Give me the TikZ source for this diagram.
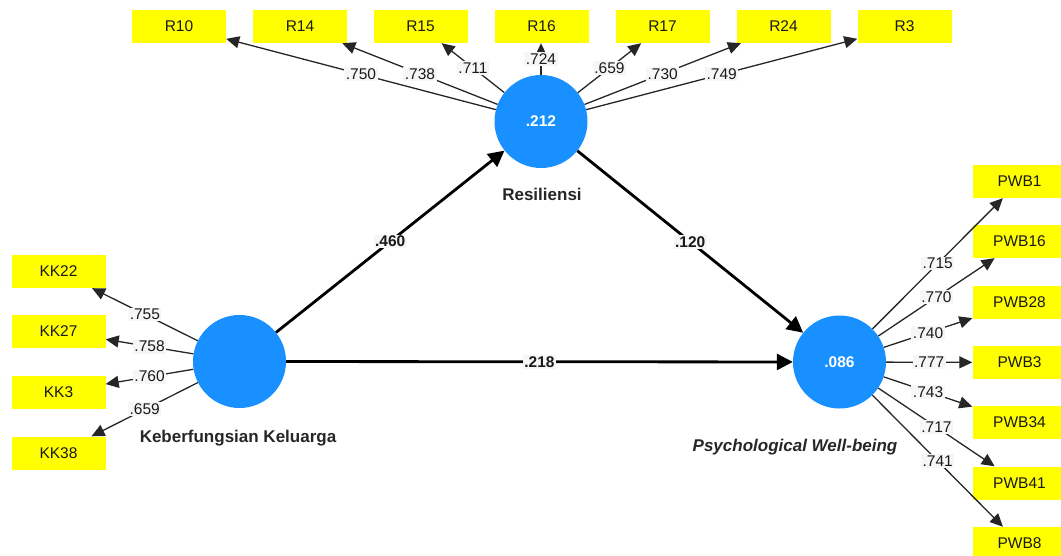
\documentclass[tikz,border=0pt]{standalone}
\usepackage{fontspec}
\setmainfont{Liberation Sans}
\usetikzlibrary{arrows.meta}
\definecolor{lvblue}{RGB}{25,144,255}
\definecolor{indyellow}{RGB}{255,255,0}
\definecolor{lblbg}{RGB}{246,246,246}
\begin{document}
\begin{tikzpicture}[x=1pt,y=-1pt,
  ind/.style={rectangle, fill=indyellow, minimum width=94pt, minimum height=33pt, inner sep=0pt, font=\fontsize{15.5}{18}\selectfont, text=black!90},
  lv/.style={circle, fill=lvblue, minimum size=93pt, inner sep=0pt, text=white, font=\fontsize{15.5}{18}\selectfont\bfseries},
  load/.style={draw=black!85, line width=1.3pt, -{Triangle[length=13pt,width=12pt]}},
  lbl/.style={fill=lblbg, inner sep=1.5pt, font=\fontsize{15.5}{18}\selectfont, text=black!90},
  pathar/.style={draw=black, line width=2.8pt, -{Triangle[length=16pt,width=16pt]}},
  slbl/.style={fill=lblbg, inner sep=1.5pt, font=\fontsize{15.5}{18}\selectfont\bfseries, text=black!90},
  lvname/.style={font=\fontsize{17}{20}\selectfont\bfseries, text=black!85}]
\useasboundingbox (0,0) rectangle (1061,556);
\clip (0,0) rectangle (1061,556);

% latent variables
\node[lv] (Res) at (541,121.5) {.212};
\node[lv] (KK) at (239.5,361.5) {};
\node[lv] (PWB) at (839.5,362) {.086};

\node[lvname] (ResN) at (542,194) {Resiliensi};
\node[lvname] (KKN) at (238,438) {Keberfungsian Keluarga};
\node[lvname] (PWBN) at (795,447) {\itshape Psychological Well-being};

% R indicators
\node[ind] (R10) at (179,26.5) {R10};
\node[ind] (R14) at (300,26.5) {R14};
\node[ind] (R15) at (420.5,26.5) {R15};
\node[ind] (R16) at (541.5,26.5) {R16};
\node[ind] (R17) at (662.5,26.5) {R17};
\node[ind] (R24) at (783.5,26.5) {R24};
\node[ind] (R3) at (904.5,26.5) {R3};

% KK indicators
\node[ind] (KK22) at (58.5,271.5) {KK22};
\node[ind] (KK27) at (58.5,331.5) {KK27};
\node[ind] (KK3) at (58.5,392) {KK3};
\node[ind] (KK38) at (58.5,453) {KK38};

% PWB indicators
\node[ind] (PWB1) at (1019.5,181.5) {PWB1};
\node[ind] (PWB16) at (1019.5,241.5) {PWB16};
\node[ind] (PWB28) at (1019.5,302.5) {PWB28};
\node[ind] (PWB3) at (1019.5,362.5) {PWB3};
\node[ind] (PWB34) at (1019.5,422.5) {PWB34};
\node[ind] (PWB41) at (1019.5,483) {PWB41};
\node[ind] (PWB8) at (1019.5,543.5) {PWB8};

% loadings Resiliensi
\draw[load] (Res) -- node[lbl] {.750} (R10);
\draw[load] (Res) -- node[lbl] {.738} (R14);
\draw[load] (Res) -- node[lbl] {.711} (R15);
\draw[load] (Res.north) -- node[lbl] {.724} (R16.south -| Res.north);
\draw[load] (Res) -- node[lbl] {.659} (R17);
\draw[load] (Res) -- node[lbl] {.730} (R24);
\draw[load] (Res) -- node[lbl] {.749} (R3);

% loadings KK
\draw[load] (KK) -- node[lbl] {.755} (KK22);
\draw[load] (KK) -- node[lbl] {.758} (KK27);
\draw[load] (KK) -- node[lbl] {.760} (KK3);
\draw[load] (KK) -- node[lbl] {.659} (KK38);

% loadings PWB
\draw[load] (PWB) -- node[lbl] {.715} (PWB1);
\draw[load] (PWB) -- node[lbl] {.770} (PWB16);
\draw[load] (PWB) -- node[lbl] {.740} (PWB28);
\draw[load] (PWB) -- node[lbl] {.777} (PWB3);
\draw[load] (PWB) -- node[lbl] {.743} (PWB34);
\draw[load] (PWB) -- node[lbl] {.717} (PWB41);
\draw[load] (PWB) -- node[lbl] {.741} (PWB8);

% structural paths
\draw[pathar] (KK) -- node[slbl] {.460} (Res);
\draw[pathar] (KK) -- node[slbl] {.218} (PWB);
\draw[pathar] (Res) -- node[slbl] {.120} (PWB);
\end{tikzpicture}
\end{document}
